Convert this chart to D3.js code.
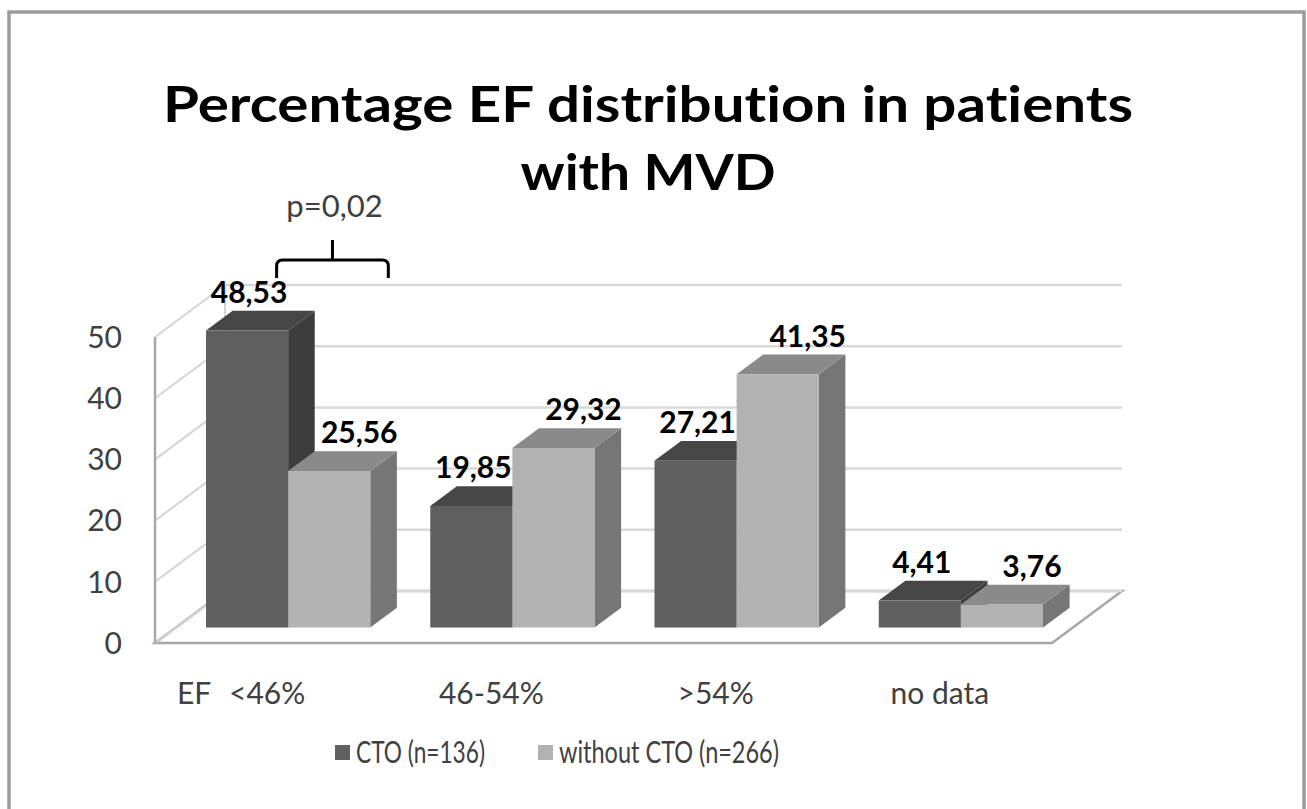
<!DOCTYPE html>
<html>
<head>
<meta charset="utf-8">
<script src="https://cdn.jsdelivr.net/npm/d3@7"></script>
<style>
  body { margin: 0; background: #fff; }
  svg text { font-family: Lato, "Open Sans", sans-serif; font-variant-ligatures: none; }
</style>
</head>
<body>
<div id="chart"></div>
<script>
// chart values
const categories = ["<46%", "46-54%", ">54%", "no data"];
const seriesNames = ["CTO (n=136)", "without CTO (n=266)"];
const ctoValues = [48.53, 19.85, 27.21, 4.41];
const withoutCtoValues = [25.56, 29.32, 41.35, 3.76];
const yTicks = [0, 10, 20, 30, 40, 50];
const titleLines = ["Percentage EF distribution in patients", "with MVD"];
const pValueText = "p=0,02";
const axisPrefix = "EF";

// dimensions
const width = 1307;
const height = 809;
const floorLeft = 155;
const floorRight = 1052;
const depthX = 70;
const depthY = 52;
const zFront = 0.30;
const zBack = 0.68;

const colors = {
    "CTO (n=136)": {front: "#5f5f5f", top: "#464646", side: "#3d3d3d"},
    "without CTO (n=266)": {front: "#b2b2b2", top: "#8a8a8a", side: "#767676"}
};
const labelNudge = {"CTO (n=136)": 2, "without CTO (n=266)": 30};

const x = d3.scaleBand().domain(categories).range([floorLeft, floorRight]);
const xs = d3.scaleBand().domain(seriesNames).range([30, x.bandwidth() - 30]);
const y = d3.scaleLinear().domain([0, 50]).range([643, 337]);

// project a point (x, y on the front plane) back by depth fraction z
const P = (px, py, z) => [px + z * depthX, py - z * depthY];
const poly = pts => "M" + pts.map(p => p.join(",")).join("L") + "Z";

const svg = d3.select("#chart").append("svg")
    .attr("width", width)
    .attr("height", height)
    .attr("viewBox", [0, 0, width, height]);

// outer frame
svg.append("rect")
    .attr("x", 9).attr("y", 12)
    .attr("width", 1295).attr("height", 840)
    .attr("fill", "#fff")
    .attr("stroke", "#9c9c9c")
    .attr("stroke-width", 3.5);

// title
svg.append("g")
    .selectAll("text")
    .data(titleLines)
    .join("text")
    .attr("x", 648)
    .attr("y", (d, i) => 122 + i * 68)
    .attr("text-anchor", "middle")
    .attr("font-size", 49)
    .attr("font-weight", "bold")
    .attr("fill", "#000")
    .attr("textLength", (d, i) => i === 0 ? 970 : 255)
    .attr("lengthAdjust", "spacingAndGlyphs")
    .text(d => d);

// back wall gridlines
const grid = svg.append("g");
grid.selectAll("line.back")
    .data(yTicks.filter(d => d > 0))
    .join("line")
    .attr("class", "back")
    .attr("x1", floorLeft + depthX)
    .attr("x2", floorRight + depthX)
    .attr("y1", d => y(d) - depthY)
    .attr("y2", d => y(d) - depthY)
    .attr("stroke", "#d9d9d9")
    .attr("stroke-width", 2.5);

// left wall gridlines
grid.selectAll("line.side")
    .data(yTicks)
    .join("line")
    .attr("class", "side")
    .attr("x1", floorLeft)
    .attr("x2", floorLeft + depthX)
    .attr("y1", d => y(d))
    .attr("y2", d => y(d) - depthY)
    .attr("stroke", "#d4d4d4")
    .attr("stroke-width", 2);

// back wall left edge
grid.append("line")
    .attr("x1", floorLeft + depthX).attr("x2", floorLeft + depthX)
    .attr("y1", y(0) - depthY).attr("y2", y(50) - depthY)
    .attr("stroke", "#d4d4d4").attr("stroke-width", 2);

// floor
const floor = [P(floorLeft, y(0), 0), P(floorRight, y(0), 0), P(floorRight, y(0), 1), P(floorLeft, y(0), 1)];
grid.append("path")
    .attr("d", poly(floor))
    .attr("fill", "#fff")
    .attr("stroke", "#a8a8a8")
    .attr("stroke-width", 2.5);
grid.append("line")
    .attr("x1", floorLeft).attr("x2", floorLeft + depthX)
    .attr("y1", y(0)).attr("y2", y(0) - depthY)
    .attr("stroke", "#d4d4d4").attr("stroke-width", 2);
grid.append("line")
    .attr("x1", floorLeft + depthX).attr("x2", floorRight + depthX)
    .attr("y1", y(0) - depthY).attr("y2", y(0) - depthY)
    .attr("stroke", "#d9d9d9").attr("stroke-width", 2.5);

// left wall front edge
grid.append("line")
    .attr("x1", floorLeft).attr("x2", floorLeft)
    .attr("y1", y(0)).attr("y2", y(50))
    .attr("stroke", "#a8a8a8").attr("stroke-width", 2.5);

// y axis labels
svg.append("g")
    .selectAll("text")
    .data(yTicks)
    .join("text")
    .attr("x", 122)
    .attr("y", d => y(d))
    .attr("dy", "0.36em")
    .attr("text-anchor", "end")
    .attr("font-size", 30)
    .attr("fill", "#404040")
    .text(d => d);

// category labels
svg.append("g")
    .selectAll("text")
    .data(categories)
    .join("text")
    .attr("x", d => x(d) + x.bandwidth() / 2)
    .attr("y", 704)
    .attr("text-anchor", "middle")
    .attr("font-size", 30)
    .attr("fill", "#404040")
    .text(d => d);

svg.append("text")
    .attr("x", 177)
    .attr("y", 704)
    .attr("font-size", 30)
    .attr("fill", "#404040")
    .text(axisPrefix);

// bars
const rows = categories.flatMap((c, i) => [
    {cat: c, series: seriesNames[0], value: ctoValues[i]},
    {cat: c, series: seriesNames[1], value: withoutCtoValues[i]}
]);

const bars = svg.append("g")
    .selectAll("g")
    .data(rows)
    .join("g");

function corners(d) {
    const x0 = x(d.cat) + xs(d.series);
    const x1 = x0 + xs.bandwidth();
    return {x0, x1, yb: y(0), yt: y(d.value)};
}

bars.append("path")
    .attr("d", d => {
        const c = corners(d);
        return poly([P(c.x1, c.yt, zFront), P(c.x1, c.yt, zBack), P(c.x1, c.yb, zBack), P(c.x1, c.yb, zFront)]);
    })
    .attr("fill", d => colors[d.series].side);

bars.append("path")
    .attr("d", d => {
        const c = corners(d);
        return poly([P(c.x0, c.yt, zFront), P(c.x1, c.yt, zFront), P(c.x1, c.yt, zBack), P(c.x0, c.yt, zBack)]);
    })
    .attr("fill", d => colors[d.series].top);

bars.append("path")
    .attr("d", d => {
        const c = corners(d);
        return poly([P(c.x0, c.yt, zFront), P(c.x1, c.yt, zFront), P(c.x1, c.yb, zFront), P(c.x0, c.yb, zFront)]);
    })
    .attr("fill", d => colors[d.series].front);

// value labels
const fmt = v => d3.format(".2f")(v).replace(".", ",");
svg.append("g")
    .selectAll("text")
    .data(rows)
    .join("text")
    .attr("x", d => {
        const c = corners(d);
        return P((c.x0 + c.x1) / 2, c.yt, zFront)[0] + labelNudge[d.series];
    })
    .attr("y", d => P(0, corners(d).yt, zBack)[1] - 8)
    .attr("text-anchor", "middle")
    .attr("font-size", 30)
    .attr("font-weight", "bold")
    .attr("fill", "#000")
    .text(d => fmt(d.value));

// significance bracket over the first group
const g0 = corners(rows[0]);
const g1 = corners(rows[1]);
const bl = P(g0.x0 + xs.bandwidth() * 0.86, 0, zFront)[0];
const br = P(g1.x0 + xs.bandwidth() * 1.22, 0, zFront)[0];
const bm = (bl + br) / 2;
const bTop = 260, bLow = 278, bTip = 240, r = 6;
svg.append("path")
    .attr("d", `M${bl},${bLow} V${bTop + r} Q${bl},${bTop} ${bl + r},${bTop} H${br - r} Q${br},${bTop} ${br},${bTop + r} V${bLow} M${bm},${bTop} V${bTip}`)
    .attr("fill", "none")
    .attr("stroke", "#000")
    .attr("stroke-width", 3);

svg.append("text")
    .attr("x", bm + 2)
    .attr("y", 217)
    .attr("text-anchor", "middle")
    .attr("font-size", 31)
    .attr("fill", "#404040")
    .text(pValueText);

// legend
const legendX = [335, 538];
const legend = svg.append("g")
    .selectAll("g")
    .data(seriesNames)
    .join("g")
    .attr("transform", (d, i) => `translate(${legendX[i]},753)`);

legend.append("rect")
    .attr("x", 0).attr("y", -8)
    .attr("width", 15).attr("height", 15)
    .attr("fill", d => colors[d].front);

legend.append("text")
    .attr("x", 21)
    .attr("y", 10)
    .attr("font-size", 30)
    .attr("fill", "#404040")
    .attr("textLength", (d, i) => i === 0 ? 129 : 220)
    .attr("lengthAdjust", "spacingAndGlyphs")
    .text(d => d);
</script>
</body>
</html>
